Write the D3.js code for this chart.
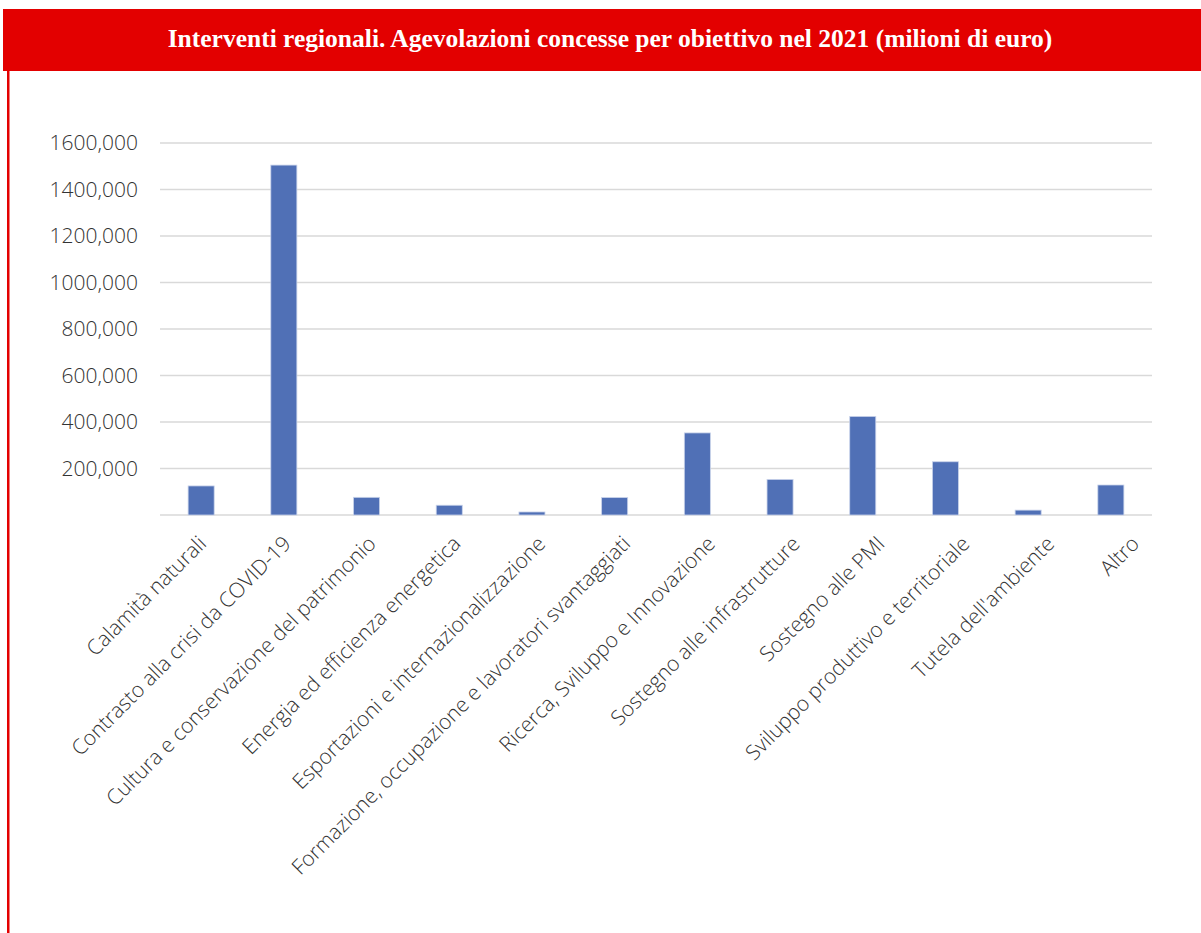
<!DOCTYPE html>
<html>
<head>
<meta charset="utf-8">
<script src="https://cdn.jsdelivr.net/npm/d3@7"></script>
<style>
  html, body { margin: 0; padding: 0; background: #fff; }
  svg { display: block; }
</style>
</head>
<body>
<svg id="chart" width="1201" height="933"></svg>
<script>
const title = "Interventi regionali. Agevolazioni concesse per obiettivo nel 2021 (milioni di euro)";
const categories = [
  "Calamità naturali",
  "Contrasto alla crisi da COVID-19",
  "Cultura e conservazione del patrimonio",
  "Energia ed efficienza energetica",
  "Esportazioni e internazionalizzazione",
  "Formazione, occupazione e lavoratori svantaggiati",
  "Ricerca, Sviluppo e Innovazione",
  "Sostegno alle infrastrutture",
  "Sostegno alle PMI",
  "Sviluppo produttivo e territoriale",
  "Tutela dell'ambiente",
  "Altro"
];
const values = [125, 1505, 76, 42, 13, 75, 353, 153, 424, 229, 21, 129];
const yTicks = [200, 400, 600, 800, 1000, 1200, 1400, 1600];
const yTickLabels = ["200,000", "400,000", "600,000", "800,000", "1000,000", "1200,000", "1400,000", "1600,000"];

const svg = d3.select("#chart");
const red = "#E30000";

// Title bar
svg.append("rect").attr("x", 3).attr("y", 9).attr("width", 1201).attr("height", 62).attr("fill", red);
svg.append("rect").attr("x", 7).attr("y", 71).attr("width", 2.5).attr("height", 870).attr("fill", red);
svg.append("text")
  .attr("x", 610).attr("y", 47)
  .attr("text-anchor", "middle")
  .attr("font-family", "'Liberation Serif', 'DejaVu Serif', serif")
  .attr("font-weight", "bold")
  .attr("font-size", 25.5)
  .attr("fill", "#fff")
  .text(title);

const x = d3.scaleBand().domain(categories).range([160, 1152]).paddingInner(0.685).paddingOuter(0.34);
const xLabel = d3.scalePoint().domain(categories).range([207, 1140]);
const y = d3.scaleLinear().domain([0, 1600]).range([515, 143]);

// gridlines
const grid = svg.append("g");
grid.selectAll("line").data([0].concat(yTicks)).enter().append("line")
  .attr("x1", 160).attr("x2", 1152)
  .attr("y1", d => y(d)).attr("y2", d => y(d))
  .attr("stroke", "#d9d9d9").attr("stroke-width", 1.5);

// y axis labels
const yAxis = d3.axisLeft(y).tickValues(yTicks).tickSize(0).tickPadding(0)
  .tickFormat((d, i) => yTickLabels[i]);
const gy = svg.append("g").attr("transform", "translate(138,0)").call(yAxis);
gy.select(".domain").remove();
gy.selectAll("text")
  .attr("font-family", "'Open Sans', sans-serif")
  .attr("font-weight", 300)
  .attr("font-size", 21)
  .attr("fill", "#333333");

// bars
svg.append("g").selectAll("rect").data(values).enter().append("rect")
  .attr("x", (d, i) => x(categories[i]))
  .attr("width", x.bandwidth())
  .attr("y", d => y(d))
  .attr("height", d => y(0) - y(d))
  .attr("fill", "#5070B6")
  .attr("stroke", "#c9d3ea").attr("stroke-width", 0.8);

// x axis labels
const xAxis = d3.axisBottom(xLabel).tickSize(0).tickPadding(0);
const gx = svg.append("g").attr("transform", "translate(0,515)").call(xAxis);
gx.select(".domain").remove();
gx.selectAll("text")
  .attr("font-family", "'Open Sans', sans-serif")
  .attr("font-weight", 300)
  .attr("font-size", 21)
  .attr("fill", "#333333")
  .attr("text-anchor", "end")
  .attr("y", 0)
  .attr("dy", null)
  .attr("transform", "translate(0,30) rotate(-45)");
</script>
</body>
</html>
